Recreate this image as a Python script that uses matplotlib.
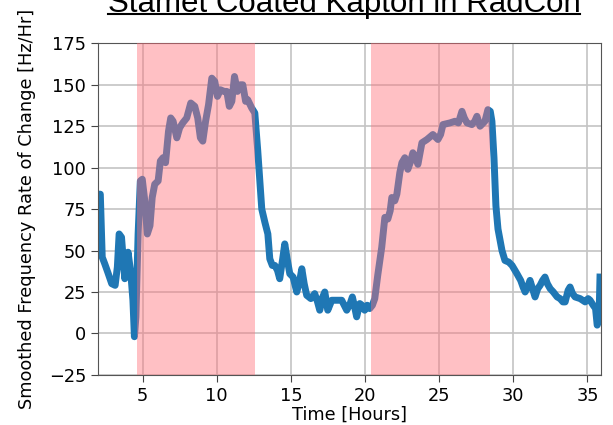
import numpy as np
import matplotlib
matplotlib.use("Agg")
import matplotlib.pyplot as plt
from matplotlib.lines import Line2D

# Readings
hours = [
    2.00, 2.15, 2.28, 2.45, 2.65, 2.92, 3.15, 3.30, 3.42, 3.58,
    3.80, 4.02, 4.20, 4.35, 4.45, 4.55, 4.70, 4.85, 4.98, 5.15,
    5.32, 5.50, 5.65, 5.82, 6.05, 6.20, 6.38, 6.55, 6.75, 6.90,
    7.06, 7.31, 7.50, 7.71, 7.98, 8.25, 8.52, 8.72, 8.90, 9.06,
    9.25, 9.45, 9.67, 9.87, 10.05, 10.25, 10.50, 10.68, 10.85, 11.02,
    11.20, 11.40, 11.60, 11.76, 11.95, 12.09, 12.36, 12.57, 12.77, 13.04,
    13.25, 13.45, 13.58, 13.75, 13.92, 14.10, 14.25, 14.45, 14.59, 14.75,
    14.93, 15.15, 15.40, 15.60, 15.74, 15.90, 16.07, 16.35, 16.61, 16.80,
    16.95, 17.15, 17.29, 17.49, 17.76, 18.10, 18.43, 18.77, 19.00, 19.15,
    19.30, 19.44, 19.65, 19.80, 19.98, 20.15, 20.32, 20.50, 20.66, 20.86,
    21.13, 21.34, 21.54, 21.70, 21.81, 22.01, 22.15, 22.35, 22.49, 22.69,
    22.89, 23.05, 23.23, 23.40, 23.57, 23.84, 24.18, 24.58, 24.92, 25.10,
    25.26, 25.73, 26.07, 26.30, 26.54, 26.70, 26.88, 27.21, 27.40, 27.55,
    27.76, 28.09, 28.29, 28.45, 28.56, 28.70, 28.83, 28.97, 29.24, 29.44,
    29.70, 29.92, 30.25, 30.50, 30.66, 30.80, 30.97, 31.13, 31.30, 31.47,
    31.65, 31.81, 31.98, 32.14, 32.30, 32.49, 32.70, 32.96, 33.16, 33.35,
    33.50, 33.70, 33.83, 34.00, 34.17, 34.51, 34.85, 35.05, 35.18, 35.39,
    35.55, 35.66, 35.78, 35.85,
]
rate = [
    84, 84, 46, 42, 37, 30, 29, 40, 60, 58,
    33, 49, 37, 20, -2, 10, 60, 92, 93, 80,
    60, 65, 82, 90, 92, 104, 106, 103, 122, 130,
    128, 118, 124, 127, 130, 139, 137, 130, 118, 116,
    128, 138, 154, 152, 143, 147, 146, 146, 137, 140,
    155, 146, 150, 150, 140, 141, 136, 133, 110, 75,
    67, 60, 45, 41, 41, 38, 33, 45, 54, 45,
    36, 34, 25, 32, 39, 30, 23, 21, 24, 19,
    14, 22, 25, 14, 20, 20, 20, 14, 18, 22,
    16, 10, 18, 17, 14, 17, 15, 17, 21, 35,
    52, 70, 69, 74, 82, 80, 84, 97, 103, 106,
    99, 103, 109, 106, 102, 115, 117, 120, 117, 120,
    126, 127, 128, 127, 134, 130, 127, 126, 128, 131,
    125, 128, 135, 134, 128, 106, 77, 63, 50, 44,
    43, 41, 36, 32, 28, 25, 28, 32, 27, 22,
    27, 29, 32, 34, 30, 27, 25, 22, 21, 19,
    19, 26, 28, 24, 22, 21, 19, 21, 20, 17,
    15, 5, 8, 34,
]

# Radiation-on windows (hours)
exposure_start = [4.6, 20.4]
exposure_end = [12.6, 28.4]

x_ticks = [5, 10, 15, 20, 25, 30, 35]
y_ticks = [-25, 0, 25, 50, 75, 100, 125, 150, 175]

fig = plt.figure(figsize=(6.13, 4.25), dpi=100)
ax = fig.add_axes([0.160, 0.118, 0.820, 0.780])

ax.plot(hours, rate, color="#1f77b4", linewidth=5.0, zorder=2)
for s, e in zip(exposure_start, exposure_end):
    ax.axvspan(s, e, color=(1.0, 0.43, 0.47), alpha=0.43, linewidth=0, zorder=3)

ax.set_xlim(2.0, 35.9)
ax.set_ylim(-25, 175)
ax.set_xticks(x_ticks)
ax.set_yticks(y_ticks)
ax.grid(True, color="#c4c4c4", linewidth=1.2, zorder=1)
ax.set_axisbelow(True)
ax.tick_params(labelsize=12.8, length=5, color="#444444")
for sp in ax.spines.values():
    sp.set_color("#555555")

ax.set_xlabel("Time [Hours]", fontsize=12.8, labelpad=1)
ax.set_ylabel("Smoothed Frequency Rate of Change [Hz/Hr]", fontsize=12.8, labelpad=9)

# title sits partly above the top edge in the reference
title_y = 0.972
title = fig.text(0.561, title_y, "Stamet Coated Kapton in RadCon",
                 family="Liberation Sans", fontsize=22.5, ha="center", va="baseline")

# underline the title
fig.canvas.draw()
bb = title.get_window_extent().transformed(fig.transFigure.inverted())
uy = title_y - 0.0055
fig.add_artist(Line2D([bb.x0, bb.x1], [uy, uy], color="black", linewidth=1.5,
                      transform=fig.transFigure))

fig.savefig("out.png", dpi=100)
